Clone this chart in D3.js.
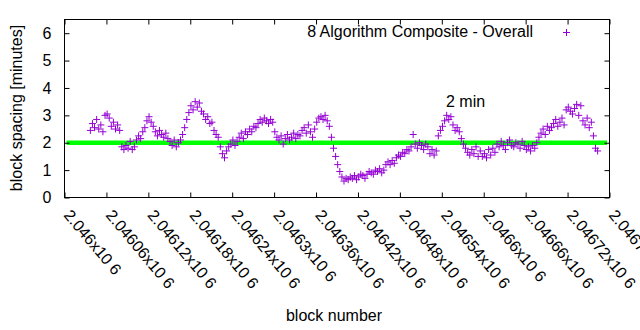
<!DOCTYPE html>
<html><head><meta charset="utf-8">
<script src="https://cdn.jsdelivr.net/npm/d3@7"></script>
<style>
html,body{margin:0;padding:0;background:#fff;}
svg{display:block;font-family:"Liberation Sans",Arial,sans-serif;}
</style></head>
<body><svg id="c" width="640" height="330"></svg>
<script>
const blockBase = 2046000;
const xTickValues = [2046000,2046060,2046120,2046180,2046240,2046300,2046360,2046420,2046480,2046540,2046600,2046660,2046720,2046780];
const xTickLabels = ["2.046x10 6","2.04606x10 6","2.04612x10 6","2.04618x10 6","2.04624x10 6","2.0463x10 6","2.04636x10 6","2.04642x10 6","2.04648x10 6","2.04654x10 6","2.0466x10 6","2.04666x10 6","2.04672x10 6","2.04678x10 6"];
const yTickValues = [0,1,2,3,4,5,6];
const seriesName = "8 Algorithm Composite - Overall";
const targetSpacing = 2;
const annotation = "2 min";
const blockOffset = [37,40,43,46,49,52,55,58,61,64,67,70,73,76,79,82,85,88,91,94,97,100,103,106,109,112,115,118,121,124,127,130,133,136,139,142,145,148,151,154,157,160,163,166,169,172,175,178,181,184,187,190,193,196,199,202,205,208,211,214,217,220,223,226,229,232,235,238,241,244,247,250,253,256,259,262,265,268,271,274,277,280,283,286,289,292,295,298,301,304,307,310,313,316,319,322,325,328,331,334,337,340,343,346,349,352,355,358,361,364,367,370,373,376,379,382,385,388,391,394,397,400,403,406,409,412,415,418,421,424,427,430,433,436,439,442,445,448,451,454,457,460,463,466,469,472,475,478,481,484,487,490,493,496,499,502,505,508,511,514,517,520,523,526,529,532,535,538,541,544,547,550,553,556,559,562,565,568,571,574,577,580,583,586,589,592,595,598,601,604,607,610,613,616,619,622,625,628,631,634,637,640,643,646,649,652,655,658,661,664,667,670,673,676,679,682,685,688,691,694,697,700,703,706,709,712,715,718,721,724,727,730,733,736,739,742,745,748,751,754,757,760,763];
const spacingMinutes = [2.45,2.7,2.55,2.85,2.5,2.65,2.4,3.0,3.05,2.9,2.6,2.75,2.5,2.65,2.45,1.85,1.75,1.9,1.8,2.05,1.75,1.85,2.1,2.25,2.15,2.4,2.55,2.8,2.95,2.75,2.6,2.4,2.25,2.45,2.3,2.2,2.35,2.15,2.05,1.9,2.1,1.85,2.0,2.1,2.3,2.55,2.85,3.1,3.35,3.2,3.5,3.3,3.45,3.15,3.05,2.85,2.95,2.7,2.75,2.45,2.3,2.2,1.85,1.6,1.45,1.7,1.85,1.95,2.1,1.9,2.05,2.2,2.35,2.15,2.4,2.3,2.5,2.4,2.6,2.55,2.7,2.85,2.75,2.9,2.8,2.7,2.85,2.75,2.4,2.2,2.1,2.25,1.95,2.15,2.3,2.1,2.2,2.35,2.15,2.3,2.25,2.45,2.55,2.35,2.65,2.4,2.2,2.5,2.75,2.9,2.95,2.85,3.0,2.8,2.6,2.2,1.8,1.5,1.2,0.95,0.75,0.6,0.7,0.65,0.75,0.7,0.8,0.65,0.75,0.85,0.8,0.7,0.85,0.95,0.9,0.85,1.0,0.95,1.05,0.9,1.0,1.2,1.3,1.2,1.35,1.25,1.45,1.55,1.5,1.65,1.6,1.75,1.7,1.85,2.3,1.95,1.8,2.0,1.9,1.75,1.95,1.85,1.6,1.75,1.55,1.7,2.25,2.45,2.6,2.8,3.0,2.85,2.95,2.65,2.45,2.55,2.4,2.15,1.95,1.8,1.65,1.55,1.75,1.6,1.85,1.5,1.7,1.5,1.6,1.45,1.75,1.55,1.8,1.65,1.95,1.85,2.05,1.9,1.75,2.0,2.1,1.9,1.85,2.0,1.95,1.8,2.05,1.9,1.75,1.85,1.7,1.9,1.8,2.0,2.2,2.35,2.5,2.3,2.6,2.45,2.55,2.7,2.85,2.6,2.75,2.9,2.65,3.2,3.3,3.15,3.05,3.25,3.4,3.0,3.35,2.8,2.65,2.9,2.55,2.75,2.25,1.8,1.7];

const purple = "#9400d3";
const svg = d3.select("#c");
const L = 64.5, R = 609.5, T = 19.5, B = 197.5;
const x = d3.scaleLinear().domain([2046000, 2046780]).range([L, R]);
const y = d3.scaleLinear().domain([0, 6.5]).range([B, T]);

// target line
svg.append("line").attr("x1", L + 2).attr("x2", R - 2.5)
  .attr("y1", y(targetSpacing)).attr("y2", y(targetSpacing))
  .attr("stroke", "#00ff00").attr("stroke-width", 4.5);

// points
const plus = "M-3.5,0H3.5M0,-3.5V3.5";
svg.append("g").selectAll("path").data(blockOffset.map((o, i) => [blockBase + o, spacingMinutes[i]]))
  .join("path").attr("d", plus)
  .attr("transform", d => `translate(${x(d[0])},${y(d[1])})`)
  .attr("stroke", purple).attr("stroke-width", 1).attr("fill", "none");

// axes
const fmt = (v) => xTickLabels[xTickValues.indexOf(v)];
const gb = svg.append("g").attr("transform", `translate(0,${B})`)
  .call(d3.axisBottom(x).tickValues(xTickValues).tickFormat(fmt).tickSizeInner(-5).tickSizeOuter(0).tickPadding(0));
gb.selectAll("text").attr("text-anchor", "start").attr("dy", null).attr("y", 0)
  .attr("transform", "translate(-2,18) rotate(50)");
const gt = svg.append("g").attr("transform", `translate(0,${T})`)
  .call(d3.axisTop(x).tickValues(xTickValues).tickFormat("").tickSizeInner(-5).tickSizeOuter(0));
const gl = svg.append("g").attr("transform", `translate(${L},0)`)
  .call(d3.axisLeft(y).tickValues(yTickValues).tickFormat(d3.format("d")).tickSizeInner(-5).tickSizeOuter(0).tickPadding(13));
const gr = svg.append("g").attr("transform", `translate(${R},0)`)
  .call(d3.axisRight(y).tickValues(yTickValues).tickFormat("").tickSizeInner(-5).tickSizeOuter(0));
[gb, gt, gl, gr].forEach(g => {
  g.select(".domain").remove();
  g.selectAll("line").attr("stroke", "#000");
  g.selectAll("text").attr("font-size", 16).attr("fill", "#000").attr("font-family", "Liberation Sans, Arial, sans-serif");
});

// frame
svg.append("rect").attr("x", L).attr("y", T).attr("width", R - L).attr("height", B - T)
  .attr("fill", "none").attr("stroke", "#000").attr("stroke-width", 1);

// axis titles
svg.append("text").attr("x", 334).attr("y", 321).attr("text-anchor", "middle")
  .attr("font-size", 16).text("block number");
svg.append("text").attr("transform", "translate(22,108) rotate(-90)").attr("text-anchor", "middle")
  .attr("font-size", 16).text("block spacing [minutes]");

// legend
svg.append("text").attr("x", 533).attr("y", 37).attr("text-anchor", "end")
  .attr("font-size", 16).text(seriesName);
svg.append("path").attr("d", plus).attr("transform", "translate(566.5,32.5)")
  .attr("stroke", purple).attr("fill", "none");

// annotation
svg.append("text").attr("x", 446).attr("y", 107).attr("font-size", 16).text(annotation);
</script></body></html>
